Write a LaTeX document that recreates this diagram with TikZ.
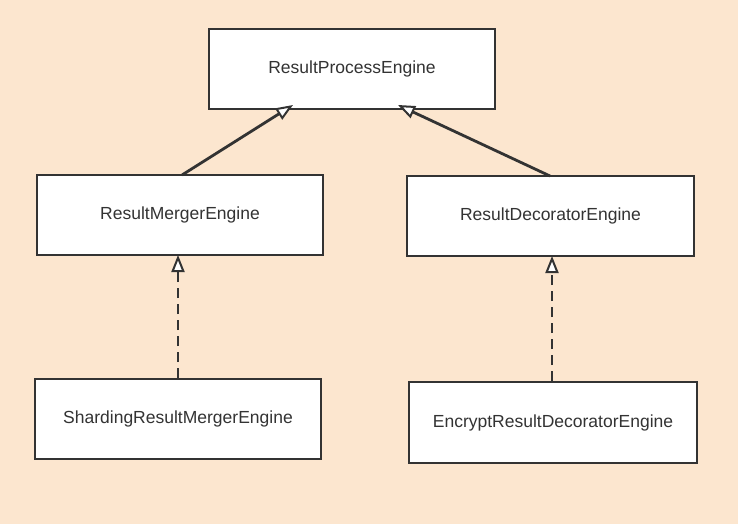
\documentclass[tikz,border=0pt]{standalone}
\usepackage{fontspec}
\setmainfont{Liberation Sans}
\usetikzlibrary{arrows.meta}
\definecolor{bg}{RGB}{252,230,207}
\definecolor{ln}{RGB}{51,51,51}
\begin{document}
\begin{tikzpicture}[x=1pt,y=-1pt,
  cls/.style={draw=ln,line width=2pt,fill=white,minimum width=286pt,minimum height=80pt,inner sep=0pt,font=\fontsize{17.5}{21}\selectfont,text=ln},
  inh/.style={draw=ln,line width=2.8pt,-{Triangle[open,fill=white,length=17pt,width=13pt,line width=2pt]}},
  impl/.style={inh,dash pattern=on 10pt off 6pt}]
\fill[bg] (0,0) rectangle (738,524);
\useasboundingbox (0,0) rectangle (738,524);
\node[cls] (rpe) at (352,69) {ResultProcessEngine};
\node[cls] (rme) at (180,215) {ResultMergerEngine};
\node[cls,minimum width=287pt] (rde) at (550.5,216) {ResultDecoratorEngine};
\node[cls] (srme) at (178,419) {ShardingResultMergerEngine};
\node[cls,minimum width=288pt,minimum height=81pt] (erde) at (553,422.5) {EncryptResultDecoratorEngine};
\coordinate (t1) at (293,105);
\coordinate (t2) at (398,105);
\draw[inh] (182,175) -- (t1);
\draw[inh] (550,176) -- (t2);
\draw[impl] (srme.north -| 178,0) -- (178,255);
\draw[impl] (erde.north -| 552,0) -- (552,256);
\end{tikzpicture}
\end{document}
